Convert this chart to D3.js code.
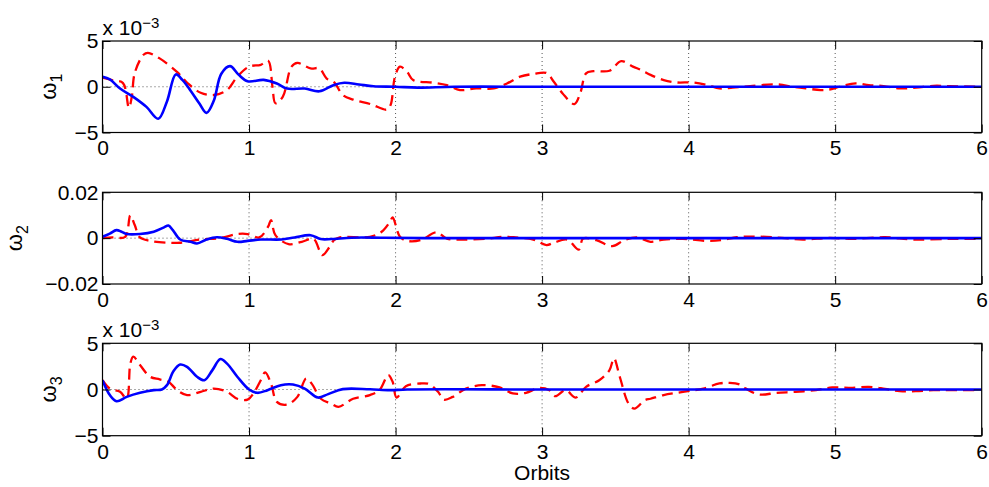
<!DOCTYPE html>
<html>
<head>
<meta charset="utf-8">
<script src="https://cdn.jsdelivr.net/npm/d3@7"></script>
<style>
  html, body { margin: 0; padding: 0; background: #fff; }
  svg { display: block; font-family: "Liberation Sans", Arial, Helvetica, sans-serif; }
</style>
</head>
<body>
<svg id="chart" width="989" height="487"></svg>
<script>
// Orbit ticks shared by all three panels
const xTicks = [0, 1, 2, 3, 4, 5, 6];

// Angular rate components: [orbits, value]; panels 1 and 3 in units of 1e-3
const w1Dashed = [[0,1.0],[0.07,0.7],[0.14,0.4],[0.18,-2.3],[0.20,-1.1],[0.22,1.5],[0.28,3.5],[0.31,3.7],[0.39,3.1],[0.51,1.6],[0.58,0.4],[0.67,-0.66],[0.76,-0.9],[0.85,-0.36],[0.92,1.1],[1.0,2.2],[1.08,2.4],[1.13,2.85],[1.16,0],[1.18,-1.8],[1.23,-1.1],[1.29,2.2],[1.33,2.6],[1.42,2.0],[1.48,2.0],[1.53,0.9],[1.58,0.5],[1.64,-0.9],[1.71,-1.4],[1.83,-1.9],[1.94,-2.5],[1.966,-2.0],[1.996,1.1],[2.03,2.2],[2.08,1.6],[2.12,0.73],[2.26,0.44],[2.35,0.18],[2.44,-0.36],[2.55,-0.18],[2.67,-0.18],[2.76,0.36],[2.85,1.1],[2.94,1.4],[3.03,1.5],[3.08,0.55],[3.14,-0.73],[3.22,-1.9],[3.26,-0.73],[3.30,1.46],[3.35,1.7],[3.46,1.75],[3.54,2.8],[3.62,2.2],[3.68,1.8],[3.74,1.3],[3.83,0.73],[3.92,0.47],[4.03,0.47],[4.13,0.18],[4.21,-0.18],[4.30,-0.1],[4.42,0.07],[4.60,0.26],[4.71,0],[4.80,-0.18],[4.90,-0.36],[4.96,-0.3],[5.03,0],[5.14,0.36],[5.23,0.18],[5.33,0.07],[5.44,-0.18],[5.55,-0.1],[5.67,0.1],[5.78,0.07],[5.96,0]];
const w1Solid = [[0,1.1],[0.05,0.8],[0.12,-0.2],[0.21,-1.1],[0.30,-2.2],[0.38,-3.5],[0.44,-1.6],[0.50,1.35],[0.545,0.75],[0.60,-0.4],[0.66,-1.8],[0.71,-2.85],[0.76,-1.5],[0.81,1.4],[0.87,2.25],[0.93,1.3],[0.99,0.6],[1.10,0.75],[1.19,0.35],[1.26,-0.2],[1.38,-0.2],[1.48,-0.5],[1.58,0.2],[1.65,0.44],[1.75,0.25],[1.85,0.05],[2.0,0],[2.15,-0.1],[2.4,0],[3,0],[4,0],[5,0],[6,0]];

const w2Dashed = [[0,0],[0.07,0.0003],[0.155,0.0006],[0.19,0.0100],[0.22,0.0057],[0.256,0.0003],[0.325,-0.0012],[0.44,-0.002],[0.53,-0.002],[0.67,-0.0006],[0.80,0],[0.92,0.0018],[0.99,0.0018],[1.07,0.0003],[1.13,0.005],[1.15,0.0079],[1.18,0.0013],[1.27,-0.0026],[1.36,-0.0016],[1.44,-0.0003],[1.50,-0.0074],[1.55,-0.0038],[1.58,-0.0009],[1.62,0.0003],[1.825,0.0006],[1.905,0.0028],[1.96,0.007],[1.98,0.009],[2.03,0.0006],[2.08,-0.0012],[2.17,-0.0009],[2.28,0.0025],[2.35,-0.0002],[2.46,-0.0006],[2.62,-0.0003],[2.73,0.0006],[2.82,0.0003],[2.94,-0.0006],[3.03,-0.003],[3.08,-0.002],[3.17,-0.0006],[3.25,-0.005],[3.28,-0.0002],[3.37,-0.0009],[3.48,-0.0035],[3.56,-0.0009],[3.65,0.0003],[3.74,-0.0016],[3.83,-0.0006],[3.96,-0.0003],[4.13,-0.0012],[4.22,-0.0009],[4.33,0.0004],[4.42,0.0007],[4.60,0.0003],[4.78,-0.0006],[4.96,0.0001],[5.12,-0.0003],[5.34,0.0004],[5.53,-0.0006],[5.78,-0.0003],[5.96,-0.0003]];
const w2Solid = [[0,0.0006],[0.05,0.002],[0.095,0.0035],[0.13,0.0028],[0.165,0.0018],[0.256,0.0018],[0.35,0.0028],[0.42,0.0047],[0.45,0.0055],[0.48,0.0035],[0.53,-0.0006],[0.60,-0.0016],[0.645,-0.0023],[0.71,-0.0006],[0.78,0.0004],[0.85,-0.0003],[0.92,-0.0016],[0.99,-0.0012],[1.08,-0.0006],[1.22,-0.0006],[1.31,0.0003],[1.42,0.0013],[1.49,-0.0004],[1.56,-0.0004],[1.7,0.0002],[1.9,0.0002],[2.2,0],[3,0],[4,0],[5,0],[6,0]];

const w3Dashed = [[0,1.0],[0.05,0.1],[0.12,-0.25],[0.165,-1.0],[0.19,2.8],[0.21,3.55],[0.256,2.65],[0.325,1.38],[0.39,1.1],[0.45,0.83],[0.51,-0.07],[0.577,-0.6],[0.67,-0.25],[0.76,0.1],[0.85,-0.25],[0.92,-1.0],[0.99,-1.1],[1.03,-0.43],[1.08,1.0],[1.11,1.85],[1.15,0.65],[1.19,-1.34],[1.26,-1.63],[1.33,-0.8],[1.39,1.2],[1.43,0.58],[1.49,-1.0],[1.56,-1.52],[1.61,-1.88],[1.71,-1.0],[1.825,-0.6],[1.89,-0.07],[1.95,1.56],[1.98,0.83],[2.007,-0.87],[2.07,0.36],[2.17,0.65],[2.23,0.58],[2.29,-0.25],[2.33,-1.1],[2.39,-0.8],[2.48,0.1],[2.59,0.47],[2.71,0.22],[2.80,-0.43],[2.89,-0.36],[2.98,0.18],[3.05,-0.07],[3.09,-0.72],[3.16,-0.07],[3.23,-0.87],[3.30,0.29],[3.39,1.0],[3.46,2.1],[3.49,3.37],[3.53,1.38],[3.59,-1.52],[3.63,-2.07],[3.70,-1.16],[3.74,-1.0],[3.83,-0.6],[3.92,-0.36],[4.01,-0.14],[4.10,0.1],[4.21,0.65],[4.28,0.72],[4.35,0.54],[4.39,0.1],[4.48,-0.54],[4.60,-0.36],[4.73,-0.25],[4.87,-0.07],[4.98,0.22],[5.10,0.18],[5.23,0.29],[5.34,0.07],[5.44,-0.18],[5.55,-0.18],[5.67,-0.07],[5.78,-0.07],[5.96,-0.07]];
const w3Solid = [[0,1.0],[0.05,-0.6],[0.096,-1.27],[0.165,-0.8],[0.256,-0.36],[0.35,-0.07],[0.405,0],[0.44,0.47],[0.485,2.0],[0.53,2.7],[0.577,2.46],[0.645,1.38],[0.695,1.0],[0.75,2.1],[0.805,3.3],[0.85,2.8],[0.92,1.38],[1.0,0],[1.057,-0.36],[1.126,-0.07],[1.217,0.47],[1.30,0.54],[1.38,0.1],[1.47,-0.87],[1.54,-0.5],[1.64,0.04],[1.825,0.02],[1.96,-0.07],[2.08,0],[3,0],[4,0],[5,0],[6,0]];

// Per-panel y ticks and labels
const yTicks13 = [-5, 0, 5];
const yLabels13 = ["\u22125", "0", "5"];
const yTicks2 = [-0.02, 0, 0.02];
const yLabels2 = ["\u22120.02", "0", "0.02"];
const panelNames = ["1", "2", "3"];

const svg = d3.select("#chart");
const left = 102.5, right = 981.7;
const x = d3.scaleLinear().domain([0, 6]).range([left, right]);

const panels = [
  { top: 41, bottom: 132.5, domain: [-5, 5], ticks: yTicks13, labels: yLabels13, dashed: w1Dashed, solid: w1Solid, name: panelNames[0], exp: true, ylabX: 56 },
  { top: 192.3, bottom: 284, domain: [-0.02, 0.02], ticks: yTicks2, labels: yLabels2, dashed: w2Dashed, solid: w2Solid, name: panelNames[1], exp: false, ylabX: 22 },
  { top: 343.3, bottom: 435.7, domain: [-5, 5], ticks: yTicks13, labels: yLabels13, dashed: w3Dashed, solid: w3Solid, name: panelNames[2], exp: true, ylabX: 56 }
];

const tickLen = 8;
const fontSize = 21;

panels.forEach((p, i) => {
  const y = d3.scaleLinear().domain(p.domain).range([p.bottom, p.top]);
  const g = svg.append("g");

  const clipId = "clip" + i;
  svg.append("clipPath").attr("id", clipId)
    .append("rect").attr("x", left).attr("y", p.top)
    .attr("width", right - left).attr("height", p.bottom - p.top);

  // dotted grid at the tick positions
  const grid = g.append("g").attr("stroke", "#555").attr("stroke-width", 1)
    .attr("stroke-dasharray", "1,3");
  grid.selectAll("line.gx").data(xTicks.slice(1, -1)).join("line")
    .attr("x1", d => x(d)).attr("x2", d => x(d))
    .attr("y1", p.top).attr("y2", p.bottom);
  grid.selectAll("line.gy").data(p.ticks.slice(1, -1)).join("line")
    .attr("x1", left).attr("x2", right)
    .attr("y1", d => y(d)).attr("y2", d => y(d));

  const line = d3.line()
    .x(d => x(d[0])).y(d => y(d[1]))
    .curve(d3.curveCatmullRom.alpha(0.5));

  const plot = g.append("g").attr("clip-path", `url(#${clipId})`);
  plot.append("path").datum(p.dashed)
    .attr("d", line).attr("fill", "none")
    .attr("stroke", "#ff0000").attr("stroke-width", 2.3)
    .attr("stroke-dasharray", "11,6");
  plot.append("path").datum(p.solid)
    .attr("d", line).attr("fill", "none")
    .attr("stroke", "#0000ff").attr("stroke-width", 2.6);

  // axes with ticks pointing inward
  const axB = d3.axisBottom(x).tickValues(xTicks).tickFormat(d3.format("d"))
    .tickSizeInner(-tickLen).tickSizeOuter(0).tickPadding(8);
  const axT = d3.axisTop(x).tickValues(xTicks).tickFormat("")
    .tickSizeInner(-tickLen).tickSizeOuter(0);
  const axL = d3.axisLeft(y).tickValues(p.ticks).tickFormat((d, k) => p.labels[k])
    .tickSizeInner(-tickLen).tickSizeOuter(0).tickPadding(4);
  const axR = d3.axisRight(y).tickValues(p.ticks).tickFormat("")
    .tickSizeInner(-tickLen).tickSizeOuter(0);

  const styleAxis = sel => {
    sel.select(".domain").remove();
    sel.selectAll(".tick line").attr("stroke", "#000").attr("stroke-width", 1);
    sel.selectAll(".tick text").attr("fill", "#000")
      .style("font-size", fontSize + "px")
      .style("font-family", '"Liberation Sans", Arial, Helvetica, sans-serif');
  };
  g.append("g").attr("transform", `translate(0,${p.bottom})`).call(axB).call(styleAxis);
  g.append("g").attr("transform", `translate(0,${p.top})`).call(axT).call(styleAxis);
  g.append("g").attr("transform", `translate(${left},0)`).call(axL).call(styleAxis);
  g.append("g").attr("transform", `translate(${right},0)`).call(axR).call(styleAxis);

  g.append("rect").attr("x", left).attr("y", p.top)
    .attr("width", right - left).attr("height", p.bottom - p.top)
    .attr("fill", "none").attr("stroke", "#000").attr("stroke-width", 1.2);

  // y label: omega with subscript index
  const cy = (p.top + p.bottom) / 2;
  const yl = g.append("text")
    .attr("transform", `translate(${p.ylabX},${cy}) rotate(-90)`)
    .attr("text-anchor", "middle")
    .style("font-size", "22px").attr("fill", "#000");
  yl.append("tspan").text("\u03c9");
  yl.append("tspan").attr("dy", "0.35em").style("font-size", "16px").text(p.name);

  // exponent note above the panel
  if (p.exp) {
    const t = g.append("text").attr("x", left).attr("y", p.top - 6)
      .style("font-size", fontSize + "px").attr("fill", "#000");
    t.append("tspan").text("x 10");
    t.append("tspan").attr("dy", "-0.5em").style("font-size", "15px").text("\u22123");
  }
});

// shared x axis title
svg.append("text").attr("x", (left + right) / 2).attr("y", 480)
  .attr("text-anchor", "middle").style("font-size", fontSize + "px").attr("fill", "#000")
  .text("Orbits");
</script>
</body>
</html>
